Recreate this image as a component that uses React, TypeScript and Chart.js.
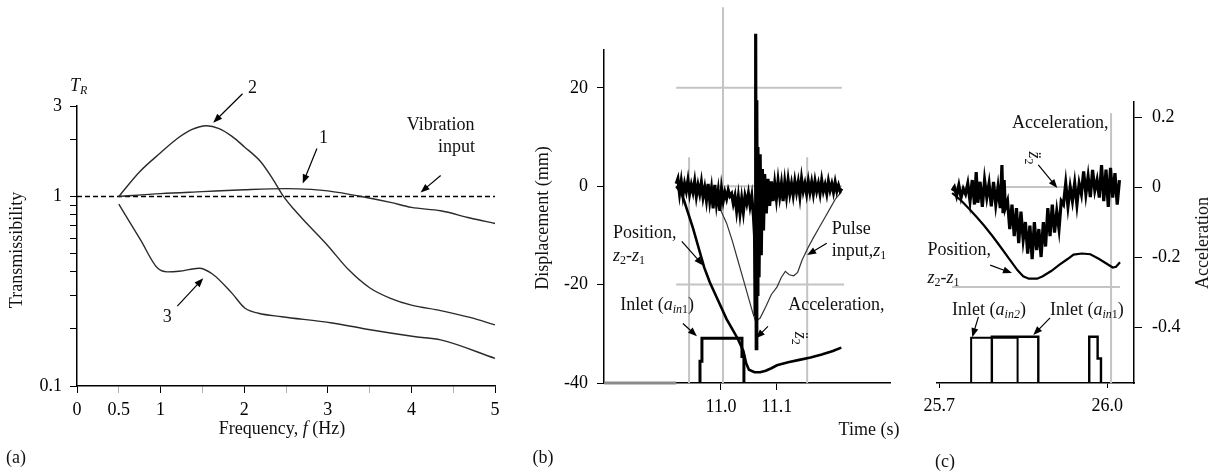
import React, { useEffect, useRef } from 'react';
import { Chart, registerables } from 'chart.js';
Chart.register(...registerables);

const FONT = '"Liberation Serif", "Times New Roman", serif';
Chart.defaults.font.family = FONT;
Chart.defaults.color = '#000';

// ---------- Panel (a): transmissibility ----------
const freqTicksA = [0, 0.5, 1, 1.5, 2, 2.5, 3, 3.5, 4, 4.5, 5];
const freqLabelsA = [0, 0.5, 1, 2, 3, 4, 5];
const trTicksA = [0.1, 0.2, 0.3, 0.4, 0.5, 0.6, 0.7, 0.8, 0.9, 1, 2, 3];
const trLabelsA = [0.1, 1, 3];

const f1 = [0.5, 1.0, 1.5, 2.0, 2.5, 2.8, 3.0, 3.4, 3.75, 4.0, 4.35, 4.7, 5.0];
const tr1 = [1.0, 1.035, 1.06, 1.085, 1.1, 1.09, 1.07, 1.0, 0.93, 0.875, 0.84, 0.77, 0.72];
const f2 = [0.5, 0.75, 1.0, 1.2, 1.37, 1.55, 1.7, 1.85, 2.0, 2.2, 2.35, 2.47, 2.6, 2.75, 3.0, 3.25, 3.5, 3.75, 4.0, 4.35, 4.7, 5.0];
const tr2 = [1.0, 1.35, 1.7, 2.02, 2.25, 2.36, 2.28, 2.08, 1.83, 1.52, 1.22, 1.0, 0.85, 0.72, 0.55, 0.41, 0.33, 0.29, 0.267, 0.25, 0.23, 0.21];
const f3 = [0.5, 0.76, 0.96, 1.08, 1.22, 1.46, 1.62, 1.85, 2.01, 2.17, 2.45, 3.05, 3.45, 4.05, 4.35, 5.0];
const tr3 = [0.91, 0.59, 0.42, 0.40, 0.403, 0.418, 0.39, 0.31, 0.257, 0.242, 0.232, 0.215, 0.2, 0.182, 0.175, 0.14];
const vibF = [0, 5];
const vibTr = [1, 1];

// ---------- Panel (b): displacement vs time ----------
const timeTicksB = [11.0, 11.1];
const dispTicksB = [20, 0, -20, -40];

const posB = [[10.92, 0], [10.93, -1.5], [10.94, -5], [10.95, -8.5], [10.96, -12.5], [10.97, -16.5], [10.98, -19.5], [10.99, -22], [11.0, -24.5], [11.01, -27], [11.02, -29], [11.03, -31], [11.04, -33.5], [11.045, -36], [11.05, -37.3], [11.06, -37.8], [11.07, -37.8], [11.08, -37.5], [11.09, -37.0], [11.1, -36.4], [11.12, -35.8], [11.14, -35.3], [11.16, -34.8], [11.18, -34.2], [11.2, -33.5], [11.215, -32.8]];

const pulseB = [[10.92, 0], [10.95, -0.3], [10.98, -1.5], [10.99, -3], [11.0, -5], [11.01, -7.5], [11.02, -11], [11.03, -15], [11.04, -19], [11.05, -23], [11.057, -25.8], [11.062, -27.5], [11.07, -26.8], [11.08, -24.5], [11.09, -22], [11.1, -20.5], [11.108, -18.5], [11.115, -17.3], [11.122, -18], [11.13, -18.2], [11.137, -17.5], [11.145, -15], [11.155, -12.6], [11.165, -10.5], [11.175, -8.5], [11.185, -6.5], [11.195, -4.5], [11.205, -2.5], [11.215, -1.2]];

const accB = [[10.920, 0.5], [10.923, 1.5], [10.926, -1.5], [10.929, 1.0], [10.932, -1.8], [10.935, 0.5], [10.938, -1.0], [10.941, 1.2], [10.944, -1.5], [10.947, 0.3], [10.950, -1.2], [10.953, 1.0], [10.956, -2.0], [10.959, 0.2], [10.962, -1.5], [10.965, 0.8], [10.968, -2.2], [10.971, -0.3], [10.974, -2.8], [10.977, 0.5], [10.980, -3.0], [10.983, -0.5], [10.986, -4.5], [10.989, 0.3], [10.992, -3.5], [10.995, -1.0], [10.998, -5.0], [11.001, -0.5], [11.004, -3.0], [11.007, -1.2], [11.010, -2.5], [11.013, -0.8], [11.016, -2.0], [11.019, -1.5], [11.022, -3.5], [11.025, -2.0], [11.028, -5.0], [11.031, -2.2], [11.034, -5.5], [11.037, -2.5], [11.040, -5.2], [11.043, -2.0], [11.046, -3.5], [11.049, -1.5], [11.052, -4.0], [11.055, -2.0], [11.058, -6.0], [11.060, -10.0], [11.061, -26.0], [11.062, 31.0], [11.063, -33.0], [11.064, 17.5], [11.065, -22.0], [11.066, 8.0], [11.068, -18.5], [11.070, 6.5], [11.072, -14.0], [11.074, 3.5], [11.076, -9.0], [11.078, 2.5], [11.081, -5.5], [11.084, 1.5], [11.087, -4.0], [11.090, 1.0], [11.093, -3.0], [11.096, 0.5], [11.099, -2.5], [11.102, 1.0], [11.105, -2.0], [11.108, 0.5], [11.111, -3.0], [11.114, 0.8], [11.117, -2.0], [11.120, 1.2], [11.123, -1.5], [11.126, 0.5], [11.129, -1.8], [11.132, 1.0], [11.135, -1.2], [11.138, 0.8], [11.141, -2.0], [11.144, 1.5], [11.147, -1.0], [11.150, 0.5], [11.153, -1.5], [11.156, 1.0], [11.159, -1.2], [11.162, 0.8], [11.165, -1.5], [11.168, 1.0], [11.171, -1.0], [11.174, 0.5], [11.177, -1.5], [11.180, 1.2], [11.183, -1.0], [11.186, 0.3], [11.189, -1.5], [11.192, 1.0], [11.195, -0.8], [11.198, 0.5], [11.201, -1.2], [11.204, 0.8], [11.207, -1.0], [11.210, 0.2], [11.213, -1.0], [11.216, -0.5]];

const inletB = [[10.9625, -40], [10.9625, -35.6], [10.966, -35.6], [10.966, -30.9], [11.0375, -30.9], [11.0375, -34.6], [11.041, -34.6], [11.041, -40]];

const refLinesB = [
  [[10.943, -40], [10.943, 5.9]],
  [[11.0036, -40], [11.0036, 36.4]],
  [[11.154, -40], [11.154, 5.9]],
  [[10.92, 20], [11.216, 20]],
  [[10.92, 0], [11.216, 0]],
  [[10.92, -20], [11.22, -20]],
];
const baseB = [[10.791, -40], [10.92, -40]];

// ---------- Panel (c): acceleration vs time ----------
const timeTicksC = [25.7, 26.0];
const accTicksC = [0.2, 0, -0.2, -0.4];

const posC = [[25.723, -0.017], [25.74, -0.04], [25.755, -0.065], [25.768, -0.088], [25.78, -0.11], [25.795, -0.14], [25.81, -0.172], [25.825, -0.205], [25.84, -0.238], [25.85, -0.255], [25.86, -0.262], [25.875, -0.262], [25.885, -0.255], [25.9, -0.24], [25.915, -0.222], [25.93, -0.205], [25.94, -0.193], [25.955, -0.19], [25.97, -0.192], [25.985, -0.205], [26.0, -0.22], [26.01, -0.23], [26.016, -0.228], [26.023, -0.215]];

const accC = [[25.723, -0.01], [25.727, 0.0], [25.731, -0.025], [25.735, 0.005], [25.739, -0.03], [25.743, -0.005], [25.747, -0.02], [25.751, 0.01], [25.755, -0.04], [25.759, 0.02], [25.763, -0.05], [25.766, 0.043], [25.769, -0.045], [25.773, 0.015], [25.777, -0.057], [25.781, 0.02], [25.785, -0.03], [25.789, 0.01], [25.793, -0.055], [25.797, 0.015], [25.801, -0.05], [25.805, 0.0], [25.809, -0.06], [25.812, 0.063], [25.814, -0.075], [25.816, 0.02], [25.818, -0.06], [25.822, -0.04], [25.826, -0.12], [25.830, -0.05], [25.834, -0.14], [25.838, -0.06], [25.842, -0.16], [25.846, -0.07], [25.850, -0.15], [25.854, -0.1], [25.858, -0.19], [25.862, -0.11], [25.866, -0.206], [25.870, -0.1], [25.874, -0.18], [25.878, -0.12], [25.882, -0.2], [25.886, -0.1], [25.890, -0.17], [25.894, -0.06], [25.898, -0.14], [25.902, -0.05], [25.906, -0.13], [25.910, -0.07], [25.914, -0.12], [25.918, -0.04], [25.922, -0.05], [25.926, 0.01], [25.930, -0.055], [25.934, 0.0], [25.938, -0.04], [25.942, 0.011], [25.946, -0.05], [25.950, 0.01], [25.954, -0.02], [25.958, 0.045], [25.962, -0.02], [25.966, 0.03], [25.970, -0.029], [25.974, 0.049], [25.978, -0.01], [25.982, 0.02], [25.986, -0.03], [25.990, 0.063], [25.994, -0.04], [25.998, 0.05], [26.002, -0.057], [26.006, 0.055], [26.010, -0.03], [26.014, 0.04], [26.018, -0.05], [26.022, 0.02]];

const inlet2C = [[25.757, -0.56], [25.757, -0.431], [25.840, -0.431], [25.840, -0.56]];
const inlet1C = [[25.794, -0.56], [25.794, -0.428], [25.877, -0.428], [25.877, -0.56], [25.92, null], [25.968, -0.56], [25.968, -0.428], [25.983, -0.428], [25.983, -0.49], [25.989, -0.49], [25.989, -0.56]];

const refLinesC = [
  [[26.007, -0.56], [26.007, 0.211]],
  [[25.723, 0], [26.023, 0]],
  [[25.723, -0.286], [26.023, -0.286]],
];

// ---------- helpers ----------
type Seg = { t: string; i?: boolean; s?: boolean };
const N = (t: string): Seg => ({ t });
const I = (t: string): Seg => ({ t, i: true });
const Sb = (t: string, i = false): Seg => ({ t, s: true, i });

const BASE = 18;
const SUB = 12;

function drawRich(ctx: CanvasRenderingContext2D, segs: Seg[], x: number, y: number, align = 'left', rot = 0) {
  ctx.save();
  ctx.translate(x, y);
  if (rot) ctx.rotate((rot * Math.PI) / 180);
  const fontFor = (s: Seg) => `${s.i ? 'italic ' : ''}${s.s ? SUB : BASE}px ${FONT}`;
  let w = 0;
  segs.forEach((s) => { ctx.font = fontFor(s); w += ctx.measureText(s.t).width; });
  let cx = align === 'center' ? -w / 2 : align === 'right' ? -w : 0;
  ctx.textBaseline = 'middle';
  ctx.textAlign = 'left';
  ctx.fillStyle = '#111';
  segs.forEach((s) => {
    ctx.font = fontFor(s);
    ctx.fillText(s.t, cx, s.s ? 5 : 0);
    cx += ctx.measureText(s.t).width;
  });
  ctx.restore();
}

function drawArrow(ctx: CanvasRenderingContext2D, x1: number, y1: number, x2: number, y2: number) {
  const a = Math.atan2(y2 - y1, x2 - x1);
  const L = 9, W = 3.5;
  ctx.save();
  ctx.strokeStyle = '#000';
  ctx.fillStyle = '#000';
  ctx.lineWidth = 1.2;
  ctx.beginPath();
  ctx.moveTo(x1, y1);
  ctx.lineTo(x2 - Math.cos(a) * L * 0.7, y2 - Math.sin(a) * L * 0.7);
  ctx.stroke();
  ctx.beginPath();
  ctx.moveTo(x2, y2);
  ctx.lineTo(x2 - L * Math.cos(a) + W * Math.sin(a), y2 - L * Math.sin(a) - W * Math.cos(a));
  ctx.lineTo(x2 - L * Math.cos(a) - W * Math.sin(a), y2 - L * Math.sin(a) + W * Math.cos(a));
  ctx.closePath();
  ctx.fill();
  ctx.restore();
}

type DataNote = { x: number; y: number; segs: Seg[]; align?: string; rot?: number };
type PixNote = { px: number; py: number; segs: Seg[]; align?: string; rot?: number };

function notesPlugin(texts: DataNote[], arrows: number[][], fixed: PixNote[]) {
  return {
    id: 'notes',
    afterDraw(chart: any) {
      const { ctx } = chart;
      const xs = chart.scales.x;
      const ys = chart.scales.y;
      arrows.forEach((a) =>
        drawArrow(ctx, xs.getPixelForValue(a[0]), ys.getPixelForValue(a[1]), xs.getPixelForValue(a[2]), ys.getPixelForValue(a[3]))
      );
      texts.forEach((t) => drawRich(ctx, t.segs, xs.getPixelForValue(t.x), ys.getPixelForValue(t.y), t.align || 'left', t.rot || 0));
      fixed.forEach((t) => drawRich(ctx, t.segs, t.px, t.py, t.align || 'left', t.rot || 0));
    },
  };
}

const xy = (xs: number[], ys: number[]) => xs.map((x, i) => ({ x, y: ys[i] }));
const pts = (p: any[][]) => p.map(([x, y]) => ({ x, y }));

const tickFont = { family: FONT, size: 18 };

function line(data: any[], color: string, width: number, extra: any = {}) {
  return { data, borderColor: color, borderWidth: width, pointRadius: 0, fill: false, tension: 0, clip: false, spanGaps: false, ...extra };
}

function axis(extra: any) {
  return {
    type: 'linear',
    ticks: { autoSkip: false, maxRotation: 0, color: '#000', font: tickFont, padding: 7 },
    grid: { drawOnChartArea: false, drawTicks: true, tickLength: 7, color: '#000', lineWidth: 1 },
    border: { display: true, color: '#000', width: 1.5 },
    ...extra,
  };
}

const baseOpts = {
  animation: false,
  responsive: false,
  maintainAspectRatio: false,
  events: [],
  plugins: { legend: { display: false }, tooltip: { enabled: false } },
};

function cfgA(): any {
  const lc = '#2a2a2a';
  return {
    type: 'line',
    data: {
      datasets: [
        line(xy(f1, tr1), lc, 1.4, { cubicInterpolationMode: 'monotone' }),
        line(xy(f2, tr2), lc, 1.4, { cubicInterpolationMode: 'monotone' }),
        line(xy(f3, tr3), lc, 1.4, { cubicInterpolationMode: 'monotone' }),
        line(xy(vibF, vibTr), '#000', 1.5, { borderDash: [5, 3] }),
      ],
    },
    options: {
      ...baseOpts,
      layout: { padding: { left: 0, top: 106, right: 25, bottom: 46 } },
      scales: {
        x: axis({
          min: 0, max: 5,
          afterBuildTicks: (ax: any) => { ax.ticks = freqTicksA.map((v) => ({ value: v })); },
          afterFit: (ax: any) => { ax.height = 40; },
          ticks: { autoSkip: false, maxRotation: 0, color: '#000', font: tickFont, padding: 6,
            callback: (v: number) => (freqLabelsA.includes(v) ? String(v) : '') },
          grid: { drawOnChartArea: false, tickLength: 7, color: '#000',
            tickColor: (c: any) => (c.tick && freqLabelsA.includes(c.tick.value) && c.tick.value !== 0.5 ? '#000' : 'rgba(0,0,0,0.3)') },
        }),
        y: axis({
          type: 'logarithmic', min: 0.1, max: 3,
          afterBuildTicks: (ax: any) => { ax.ticks = trTicksA.map((v) => ({ value: v })); },
          afterFit: (ax: any) => { ax.width = 77; },
          ticks: { autoSkip: false, color: '#000', font: tickFont, padding: 8,
            callback: (v: number) => (trLabelsA.includes(v) ? String(v) : '') },
        }),
      },
    },
    plugins: [
      notesPlugin(
        [
          { x: 2.1, y: 3.7, segs: [N('2')], align: 'center' },
          { x: 2.95, y: 2.02, segs: [N('1')], align: 'center' },
          { x: 1.08, y: 0.231, segs: [N('3')], align: 'center' },
          { x: 4.35, y: 2.36, segs: [N('Vibration')], align: 'center' },
          { x: 4.54, y: 1.81, segs: [N('input')], align: 'center' },
        ],
        [
          [1.98, 3.48, 1.63, 2.45],
          [2.87, 1.79, 2.7, 1.17],
          [1.2, 0.264, 1.51, 0.37],
          [4.35, 1.29, 4.11, 1.05],
        ],
        [
          { px: 17, py: 250, segs: [N('Transmissibility')], align: 'center', rot: -90 },
          { px: 282, py: 429, segs: [N('Frequency, '), I('f'), N(' (Hz)')], align: 'center' },
          { px: 70, py: 86, segs: [I('T'), Sb('R', true)] },
          { px: 16, py: 458, segs: [N('(a)')], align: 'center' },
        ]
      ),
    ],
  };
}

function cfgB(): any {
  const gray = '#c4c4c4';
  const refs = refLinesB.map((r) => line(pts(r), gray, 2, { order: 10 }));
  return {
    type: 'line',
    data: {
      datasets: [
        ...refs,
        line(pts(baseB), '#8a8a8a', 3, { order: 9 }),
        line(pts(pulseB), '#333', 1.2, { order: 5 }),
        line(pts(posB), '#000', 2.6, { order: 3 }),
        line(pts(accB), '#000', 3.2, { order: 2 }),
        line(pts(inletB), '#000', 3, { order: 1 }),
      ],
    },
    options: {
      ...baseOpts,
      layout: { padding: { left: 0, top: 50, right: 20, bottom: 49 } },
      scales: {
        x: axis({
          min: 10.791, max: 11.302,
          afterBuildTicks: (ax: any) => { ax.ticks = timeTicksB.map((v) => ({ value: v })); },
          afterFit: (ax: any) => { ax.height = 40; },
          ticks: { autoSkip: false, maxRotation: 0, color: '#000', font: tickFont, padding: 6,
            callback: (v: number) => v.toFixed(1) },
        }),
        y: axis({
          min: -40, max: 27.7,
          afterBuildTicks: (ax: any) => { ax.ticks = dispTicksB.map((v) => ({ value: v })); },
          afterFit: (ax: any) => { ax.width = 84; },
          ticks: { autoSkip: false, color: '#000', font: tickFont, padding: 9,
            callback: (v: number) => String(v) },
        }),
      },
    },
    plugins: [
      notesPlugin(
        [
          { x: 10.807, y: -9.6, segs: [N('Position,')] },
          { x: 10.807, y: -14.2, segs: [I('z'), Sb('2'), N('-'), I('z'), Sb('1')] },
          { x: 10.82, y: -24.2, segs: [N('Inlet ('), I('a'), Sb('in', true), Sb('1'), N(')')] },
          { x: 11.198, y: -8.7, segs: [N('Pulse')] },
          { x: 11.198, y: -13.2, segs: [N('input,'), I('z'), Sb('1')] },
          { x: 11.12, y: -24.2, segs: [N('Acceleration,')] },
          { x: 11.141, y: -30.9, segs: [I('z\u0308'), Sb('2')], align: 'center', rot: 90 },
        ],
        [
          [10.93, -11.2, 10.968, -16.1],
          [10.932, -27.9, 10.957, -30.5],
          [11.189, -11.6, 11.154, -14.0],
          [11.084, -28.5, 11.0625, -30.9],
        ],
        [
          { px: 23, py: 218, segs: [N('Displacement (mm)')], align: 'center', rot: -90 },
          { px: 349, py: 430, segs: [N('Time (s)')], align: 'center' },
          { px: 23, py: 458, segs: [N('(b)')], align: 'center' },
        ]
      ),
    ],
  };
}

function cfgC(): any {
  const gray = '#c4c4c4';
  const refs = refLinesC.map((r) => line(pts(r), gray, 2, { order: 10 }));
  return {
    type: 'line',
    data: {
      datasets: [
        ...refs,
        line(pts(posC), '#000', 2.2, { order: 3 }),
        line(pts(accC), '#000', 3.2, { order: 2 }),
        line(pts(inlet2C), '#000', 2, { order: 1 }),
        line(pts(inlet1C), '#000', 2.4, { order: 1 }),
      ],
    },
    options: {
      ...baseOpts,
      layout: { padding: { left: 27, top: 102, right: 0, bottom: 49 } },
      scales: {
        x: axis({
          min: 25.696, max: 26.048,
          afterBuildTicks: (ax: any) => { ax.ticks = timeTicksC.map((v) => ({ value: v })); },
          afterFit: (ax: any) => { ax.height = 40; },
          ticks: { autoSkip: false, maxRotation: 0, color: '#000', font: tickFont, padding: 7,
            callback: (v: number) => v.toFixed(1) },
          grid: { drawOnChartArea: false, tickLength: 5, color: '#000' },
        }),
        y: axis({
          position: 'right',
          min: -0.56, max: 0.243,
          afterBuildTicks: (ax: any) => { ax.ticks = accTicksC.map((v) => ({ value: v })); },
          afterFit: (ax: any) => { ax.width = 87; },
          ticks: { autoSkip: false, color: '#000', font: tickFont, padding: 10,
            callback: (v: number) => (v === 0 ? '0' : v.toFixed(1)) },
          grid: { drawOnChartArea: false, tickLength: 8, color: '#000' },
        }),
      },
    },
    plugins: [
      notesPlugin(
        [
          { x: 25.83, y: 0.183, segs: [N('Acceleration,')] },
          { x: 25.868, y: 0.083, segs: [I('z\u0308'), Sb('2')], align: 'center', rot: 90 },
          { x: 25.679, y: -0.18, segs: [N('Position,')] },
          { x: 25.679, y: -0.26, segs: [I('z'), Sb('2'), N('-'), I('z'), Sb('1')] },
          { x: 25.723, y: -0.351, segs: [N('Inlet ('), I('a'), Sb('in2', true), N(')')] },
          { x: 25.898, y: -0.351, segs: [N('Inlet ('), I('a'), Sb('in', true), Sb('1'), N(')')] },
        ],
        [
          [25.877, 0.063, 25.911, -0.003],
          [25.791, -0.223, 25.83, -0.246],
          [25.77, -0.371, 25.759, -0.429],
          [25.898, -0.374, 25.868, -0.423],
        ],
        [
          { px: 293, py: 243, segs: [N('Acceleration')], align: 'center', rot: -90 },
          { px: 35, py: 462, segs: [N('(c)')], align: 'center' },
        ]
      ),
    ],
  };
}

export default function App() {
  const ra = useRef<HTMLCanvasElement>(null);
  const rb = useRef<HTMLCanvasElement>(null);
  const rc = useRef<HTMLCanvasElement>(null);

  useEffect(() => {
    const charts = [
      new Chart(ra.current as HTMLCanvasElement, cfgA()),
      new Chart(rb.current as HTMLCanvasElement, cfgB()),
      new Chart(rc.current as HTMLCanvasElement, cfgC()),
    ];
    return () => charts.forEach((c) => c.destroy());
  }, []);

  const cs = (left: number, w: number): React.CSSProperties => ({ position: 'absolute', left, top: 0, width: w, height: 472 });

  return (
    <div style={{ position: 'fixed', left: 0, top: 0, width: 1221, height: 472, background: '#fff', overflow: 'hidden' }}>
      <canvas ref={ra} width={520} height={472} style={cs(0, 520)} />
      <canvas ref={rb} width={390} height={472} style={cs(520, 390)} />
      <canvas ref={rc} width={311} height={472} style={cs(910, 311)} />
    </div>
  );
}
